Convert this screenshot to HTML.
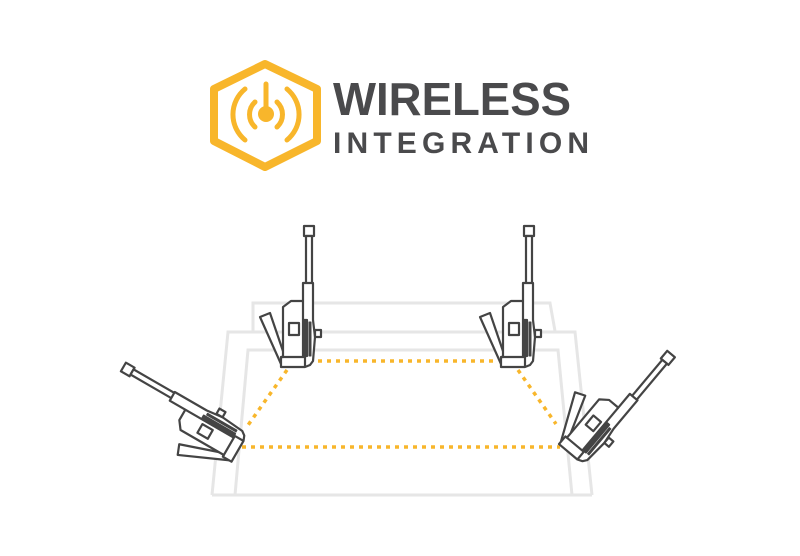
<!DOCTYPE html>
<html><head><meta charset="utf-8"><style>html,body{margin:0;padding:0;background:#fff}svg{display:block}</style></head>
<body>
<svg width="800" height="556" viewBox="0 0 800 556" xmlns="http://www.w3.org/2000/svg">
<defs>
<g id="radio" fill="#fff" stroke="#444" stroke-width="2.2" stroke-linejoin="round">
  <polygon points="-38,-50 -28,-54 -13,-10 -17,-3"/>
  <rect x="6" y="-141" width="10" height="10"/>
  <rect x="8" y="-131" width="6" height="48"/>
  <polygon points="-15,-60 -7,-66 5,-66 5,-84 15,-84 15,-47 17,-30 15,-6 12,-2 7,0 -17,0 -17,-10 -15,-10"/>
  <line x1="5" y1="-66" x2="5" y2="-10"/>
  <line x1="-17" y1="-10" x2="7" y2="-10"/>
  <line x1="7" y1="-10" x2="7" y2="0"/>
  <rect x="-9" y="-44" width="10" height="12"/>
  <rect x="6" y="-47" width="3" height="36" fill="#444"/>
  <rect x="11" y="-45" width="2" height="34" fill="#444" stroke-width="1"/>
  <rect x="17" y="-37" width="6" height="7"/>
</g>
</defs>
<!-- logo -->
<g fill="none" stroke="#f8b62b" stroke-linejoin="round" stroke-linecap="round">
  <polygon points="265,64 317,89 317,141 265,167 214,141 214,89" stroke-width="8"/>
  <line x1="266" y1="84" x2="266" y2="108" stroke-width="5"/>
  <path d="M255,102 A17,17 0 0 0 255,127 M277,102 A17,17 0 0 1 277,127" stroke-width="5"/>
  <path d="M245,89 A33,33 0 0 0 245,140 M287,89 A33,33 0 0 1 287,140" stroke-width="5"/>
</g>
<circle cx="266" cy="114" r="8" fill="#f8b62b"/>
<text x="333" y="115" font-family="Liberation Sans, sans-serif" font-weight="bold" font-size="46" fill="#4a4a4c" textLength="238" lengthAdjust="spacingAndGlyphs">WIRELESS</text>
<text x="333" y="153" font-family="Liberation Sans, sans-serif" font-weight="bold" font-size="30" fill="#4a4a4c" textLength="256" lengthAdjust="spacing">INTEGRATION</text>
<!-- platform -->
<g fill="none" stroke="#e6e6e6" stroke-width="3">
  <polyline points="253,331 253,303 550,303 555,331"/>
  <polyline points="212,495 228,332 575,332 592,495"/>
  <polyline points="235,495 248,350 558,350 572,495"/>
  <line x1="212" y1="495" x2="592" y2="495"/>
</g>
<!-- links -->
<g stroke="#f8b62b" stroke-width="3.5" stroke-dasharray="4,5" fill="none">
  <line x1="318" y1="361" x2="498" y2="361"/>
  <line x1="287" y1="370" x2="246" y2="428"/>
  <line x1="242" y1="447" x2="560" y2="447"/>
  <line x1="518" y1="370" x2="556" y2="424"/>
</g>
<use href="#radio" transform="translate(298,367)"/>
<use href="#radio" transform="translate(518,367)"/>
<use href="#radio" transform="translate(240,447) rotate(-60)"/>
<use href="#radio" transform="translate(572,455) rotate(40)"/>
</svg>
</body></html>
